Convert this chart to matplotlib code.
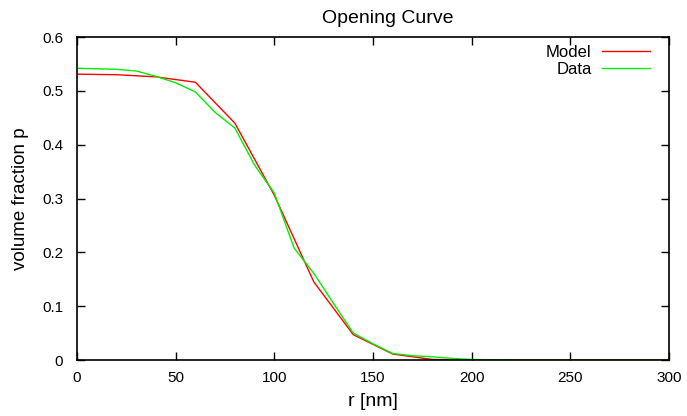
import matplotlib
matplotlib.use("Agg")
import matplotlib.pyplot as plt

plt.rcParams['font.family'] = ['Liberation Sans', 'DejaVu Sans']

# model curve (red)
r_model = [0, 20, 40, 60, 80, 100, 120, 140, 160, 180, 200, 220, 240, 260, 280, 300]
p_model = [0.531, 0.530, 0.526, 0.516, 0.440, 0.306, 0.145, 0.047, 0.011, 0.001, 0.0, 0.0, 0.0, 0.0, 0.0, 0.0]

# measured data (green)
r_data = [0, 10, 20, 30, 40, 50, 60, 70, 80, 90, 100, 110, 120, 130, 140, 150, 160,
          170, 180, 190, 200, 220, 240, 260, 280, 300]
p_data = [0.542, 0.541, 0.540, 0.537, 0.527, 0.515, 0.498, 0.460, 0.431, 0.362, 0.310,
          0.208, 0.161, 0.105, 0.050, 0.030, 0.012, 0.008, 0.006, 0.003, 0.001,
          0.0, 0.0, 0.0, 0.0, 0.0]

x_ticks = [0, 50, 100, 150, 200, 250, 300]
y_ticks = [0, 0.1, 0.2, 0.3, 0.4, 0.5, 0.6]

fig = plt.figure(figsize=(6.87, 4.16), dpi=100)
ax = fig.add_axes([0.112, 0.1346, 0.862, 0.7764])

ax.plot(r_model, p_model, color='#ff0000', lw=1.0, label='Model')
ax.plot(r_data, p_data, color='#00ee00', lw=1.0, label='Data')

ax.set_xlim(0, 300)
ax.set_ylim(0, 0.6)
ax.set_xticks(x_ticks)
ax.set_yticks(y_ticks)
ax.set_xticklabels([str(t) for t in x_ticks])
ax.set_yticklabels(['0', '0.1', '0.2', '0.3', '0.4', '0.5', '0.6'])
ax.tick_params(direction='in', top=True, right=True, length=6, width=1,
               labelsize=11)
ax.tick_params(axis='x', pad=8)
ax.tick_params(axis='y', pad=10)
for s in ax.spines.values():
    s.set_linewidth(1.2)

ax.set_title('Opening Curve', fontsize=14, pad=10, x=0.524)
ax.set_xlabel('r [nm]', fontsize=14, labelpad=6)
ax.set_ylabel('volume fraction p', fontsize=13.5, labelpad=9)

ax.legend(loc='upper right', frameon=False, markerfirst=False, fontsize=12,
          handlelength=2.9, handletextpad=0.6, labelspacing=0.12,
          borderaxespad=0.3, borderpad=0.1, bbox_to_anchor=(0.979, 0.995))

fig.savefig('out.png', dpi=100)
